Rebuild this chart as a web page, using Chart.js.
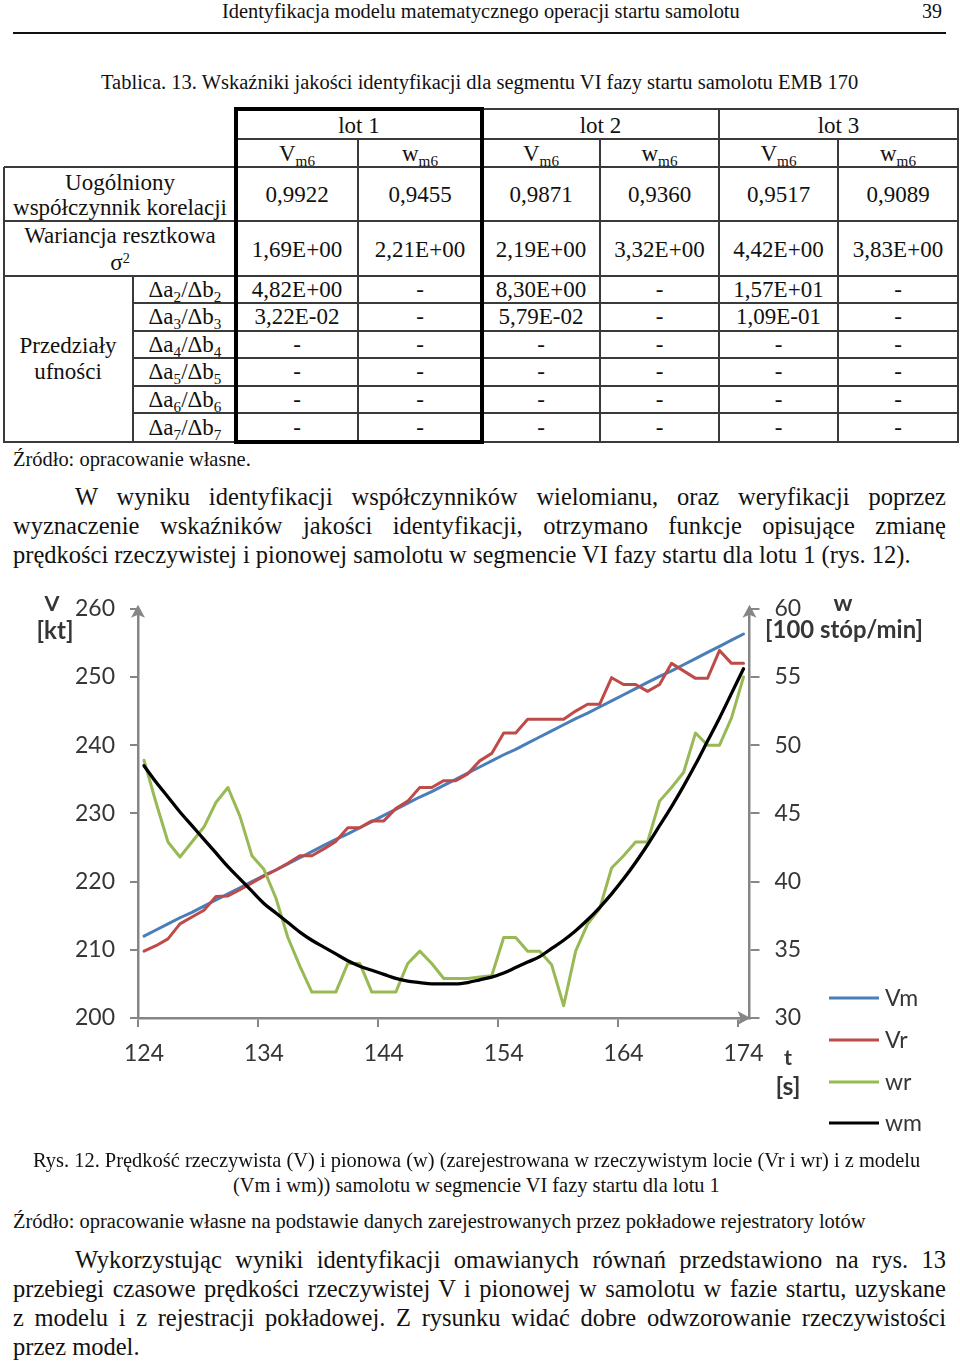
<!DOCTYPE html>
<html><head><meta charset="utf-8">
<script src="https://cdn.jsdelivr.net/npm/chart.js@4.4.1/dist/chart.umd.min.js"></script>
<style>
html,body{margin:0;padding:0;background:#fff;}
body{width:960px;height:1365px;position:relative;overflow:hidden;font-family:"Liberation Serif","Times New Roman",serif;color:#111;}
.t{position:absolute;white-space:nowrap;line-height:1;}
.t .sb{font-size:0.66em;position:relative;top:0.3em;}
.t .sp{font-size:0.62em;position:relative;top:-0.55em;}
.ln{position:absolute;background:#3a3a3a;}
#chartBox{position:absolute;left:0;top:580px;width:960px;height:570px;}
</style></head>
<body>
<div id="chartBox"><canvas id="c" width="960" height="570"></canvas></div>
<script>
// ---------------- chart data ----------------
const seconds = [124,125,126,127,128,129,130,131,132,133,134,135,136,137,138,139,140,141,142,143,144,145,146,147,148,149,150,151,152,153,154,155,156,157,158,159,160,161,162,163,164,165,166,167,168,169,170,171,172,173,174];
const vm = [212.0,212.9,213.8,214.7,215.5,216.4,217.3,218.2,219.1,220.0,220.9,221.7,222.6,223.5,224.4,225.3,226.2,227.0,227.9,228.8,229.7,230.6,231.5,232.4,233.2,234.1,235.0,235.9,236.8,237.7,238.6,239.4,240.3,241.2,242.1,243.0,243.9,244.7,245.6,246.5,247.4,248.3,249.2,250.1,250.9,251.8,252.7,253.6,254.5,255.4,256.3];
const vr = [209.8,210.6,211.6,213.8,214.8,215.8,217.8,217.9,218.8,219.8,220.8,221.7,222.7,223.8,223.8,224.8,225.9,227.9,227.9,228.9,228.9,230.7,231.8,233.8,233.8,234.8,234.8,235.8,237.7,238.8,241.8,241.8,243.8,243.8,243.8,243.8,245.0,246.0,246.0,249.9,248.9,248.9,247.9,248.9,252.0,250.9,249.8,249.8,253.9,252.0,252.0];
const wr = [48.9,45.8,42.9,41.8,42.9,44.0,45.8,46.9,44.8,41.9,40.9,38.8,35.9,33.8,31.9,31.9,31.9,34.0,34.0,31.9,31.9,31.9,34.0,34.9,34.0,32.9,32.9,32.9,33.0,33.1,35.9,35.9,34.9,34.9,33.9,30.9,34.9,36.9,38.0,41.0,41.9,42.9,42.9,45.9,46.9,48.0,50.9,50.0,50.0,52.0,55.0];
const wm = [48.5,47.3,46.2,45.1,44.1,43.1,42.1,41.1,40.2,39.3,38.4,37.7,37.0,36.3,35.7,35.2,34.7,34.2,33.8,33.5,33.2,32.9,32.7,32.6,32.5,32.5,32.5,32.6,32.8,33.0,33.3,33.7,34.1,34.5,35.1,35.7,36.4,37.2,38.1,39.1,40.2,41.4,42.7,44.1,45.5,47.0,48.6,50.3,52.0,53.8,55.6];
const seriesNames = ['Vm','Vr','wr','wm'];
const xTickLabels = ['124','134','144','154','164','174'];
const vAxisRange = [200,260];
const wAxisRange = [30,60];

// ---------------- table data ----------------
const lotNames = ['lot 1','lot 2','lot 3'];
const colHeads = ['V','w','V','w','V','w'];
const corrValues = ['0,9922','0,9455','0,9871','0,9360','0,9517','0,9089'];
const varValues = ['1,69E+00','2,21E+00','2,19E+00','3,32E+00','4,42E+00','3,83E+00'];
const intervalValues = [
  ['4,82E+00','-','8,30E+00','-','1,57E+01','-'],
  ['3,22E-02','-','5,79E-02','-','1,09E-01','-'],
  ['-','-','-','-','-','-'],
  ['-','-','-','-','-','-'],
  ['-','-','-','-','-','-'],
  ['-','-','-','-','-','-']
];
const intervalIdx = ['2','3','4','5','6','7'];

// ---------------- text helpers ----------------
function T(html, o){
  const d=document.createElement('div'); d.className='t';
  d.innerHTML=html; d.style.fontSize=o.fs+'px';
  if(o.b) d.style.fontWeight='bold';
  document.body.appendChild(d);
  let fs=o.fs;
  if(o.w){ const w0=d.getBoundingClientRect().width; fs=o.fs*o.w/w0; d.style.fontSize=fs+'px'; }
  const w=d.getBoundingClientRect().width;
  const left=(o.x!==undefined)?o.x:(o.cx-w/2);
  d.style.left=left+'px'; d.style.top=(o.cy-fs*0.507)+'px';
  return d;
}
function J(txt,x,right,cy,fs){
  const d=T(txt,{x:x,cy:cy,fs:fs});
  const w0=d.getBoundingClientRect().width;
  const n=(txt.match(/ /g)||[]).length;
  if(n>0) d.style.wordSpacing=((right-x-w0)/n)+'px';
}
function L(x,y,w,h,c){
  const d=document.createElement('div'); d.className='ln';
  d.style.left=x+'px'; d.style.top=y+'px'; d.style.width=w+'px'; d.style.height=h+'px';
  if(c) d.style.background=c;
  document.body.appendChild(d);
}

// header
T('Identyfikacja modelu matematycznego operacji startu samolotu',{x:222,cy:11,fs:20,w:518});
T('39',{x:922,cy:11,fs:20,w:20});
L(13,32,933,2,'#111');
T('Tablica. 13. Wskaźniki jakości identyfikacji dla segmentu VI fazy startu samolotu EMB 170',{x:101,cy:82,fs:20,w:758});

// table lines
const th=1.4;
[[482,109,958],[236,139,958],[4,167,958],[4,221,958],[4,276,958],[133,303,958],[133,331,958],[133,358,958],[133,386,958],[133,413,958],[4,442,958]]
  .forEach(a=>L(a[0],a[1]-th/2,a[2]-a[0]+th/2,th));
[[4,167,442],[133,276,442],[358,139,442],[600,139,442],[719,109,442],[838,139,442],[958,109,442]]
  .forEach(a=>L(a[0]-th/2,a[1],th,a[2]-a[1]+th/2));
// thick frame around lot 1
L(234,107,250,4,'#000'); L(234,440,250,4,'#000'); L(234,107,4,337,'#000'); L(480,107,4,337,'#000');

const colCx=[297,420,541,659.5,778.5,898];
const lotCx=[359,600.5,838.5];
const TF=23;
lotNames.forEach((n,i)=>T(n,{cx:lotCx[i],cy:126,fs:TF}));
colHeads.forEach((n,i)=>T(n+'<span class="sb">m6</span>',{cx:colCx[i],cy:154,fs:TF}));
corrValues.forEach((n,i)=>T(n,{cx:colCx[i],cy:195,fs:TF}));
varValues.forEach((n,i)=>T(n,{cx:colCx[i],cy:249.5,fs:TF}));
const rowCy=[290,317,345,372,400,428];
intervalValues.forEach((row,r)=>row.forEach((n,i)=>T(n,{cx:colCx[i],cy:rowCy[r],fs:TF})));
intervalIdx.forEach((k,r)=>T('Δa<span class="sb">'+k+'</span>/Δb<span class="sb">'+k+'</span>',{cx:185,cy:rowCy[r],fs:TF}));
T('Uogólniony',{cx:120,cy:182.5,fs:TF});
T('współczynnik korelacji',{cx:120,cy:208,fs:TF});
T('Wariancja resztkowa',{cx:120,cy:236,fs:TF});
T('σ<span class="sp">2</span>',{cx:120,cy:263,fs:TF});
T('Przedziały',{cx:68,cy:346,fs:TF});
T('ufności',{cx:68,cy:372,fs:TF});
T('Źródło: opracowanie własne.',{x:13,cy:459,fs:20,w:238});

// paragraph 1
const PF=24.5;
J('W wyniku identyfikacji współczynników wielomianu, oraz weryfikacji poprzez',75,946,497,PF);
J('wyznaczenie wskaźników jakości identyfikacji, otrzymano funkcje opisujące zmianę',13,946,526,PF);
T('prędkości rzeczywistej i pionowej samolotu w segmencie VI fazy startu dla lotu 1 (rys. 12).',{x:13,cy:555,fs:PF});

// captions
T('Rys. 12. Prędkość rzeczywista (V) i pionowa (w) (zarejestrowana w rzeczywistym locie (Vr i wr) i z modelu',{x:33,cy:1160,fs:20,w:888});
T('(Vm i wm)) samolotu w segmencie VI fazy startu dla lotu 1',{x:233,cy:1185,fs:20,w:487});
T('Źródło: opracowanie własne na podstawie danych zarejestrowanych przez pokładowe rejestratory lotów',{x:13,cy:1221,fs:20,w:853});

// paragraph 2
J('Wykorzystując wyniki identyfikacji omawianych równań przedstawiono na rys. 13',75,946,1260,PF);
J('przebiegi czasowe prędkości rzeczywistej V i pionowej w samolotu w fazie startu, uzyskane',13,946,1289,PF);
J('z modelu i z rejestracji pokładowej. Z rysunku widać dobre odwzorowanie rzeczywistości',13,946,1318,PF);
T('przez model.',{x:13,cy:1347,fs:PF});

// ---------------- chart ----------------
const AX='#868686', TXT='#363636', FONT='Lato';
const colors=['#4A7EBB','#BE4B48','#98B954','#000000'];
function pts(arr){return seconds.map((t,i)=>({x:t,y:arr[i]}));}

const decor={
  id:'decor',
  afterDraw(chart){
    const c=chart.ctx, a=chart.chartArea;
    c.save();
    c.fillStyle=AX;
    function up(x,y){c.beginPath();c.moveTo(x,y-4);c.lineTo(x-7,y+9);c.lineTo(x,y+6);c.lineTo(x+7,y+9);c.closePath();c.fill();}
    up(a.left,a.top); up(a.right,a.top);
    const x=a.right, y=a.bottom;
    c.beginPath();c.moveTo(x+1,y);c.lineTo(x-12,y-7);c.lineTo(x-9,y);c.lineTo(x-12,y+7);c.closePath();c.fill();
    // axis titles
    c.fillStyle=TXT; c.textBaseline='middle'; c.textAlign='center';
    function fit(txt,cx,cy,w,bold){
      c.font=(bold?'bold ':'')+'20px '+FONT;
      const s=20*w/c.measureText(txt).width;
      c.font=(bold?'bold ':'')+s+'px '+FONT;
      c.fillText(txt,cx,cy);
    }
    fit('V',52,24,15,true);
    fit('[kt]',55,51,37,true);
    fit('w',843,23,19,true);
    fit('[100 stóp/min]',844,50,158,true);
    fit('t',788,478,8,true);
    fit('[s]',788,507,25,true);
    // legend
    const ly=[418,460,502,543];
    c.textAlign='left'; c.font='23px '+FONT;
    seriesNames.forEach((n,i)=>{
      c.strokeStyle=colors[i]; c.lineWidth=3;
      c.beginPath(); c.moveTo(829,ly[i]); c.lineTo(879,ly[i]); c.stroke();
      c.fillStyle=TXT; c.fillText(n,885,ly[i]+1);
    });
    c.restore();
  }
};

new Chart(document.getElementById('c').getContext('2d'),{
  type:'line',
  data:{datasets:[
    {label:seriesNames[0],data:pts(vm),yAxisID:'yV',borderColor:colors[0],borderWidth:3,order:4},
    {label:seriesNames[1],data:pts(vr),yAxisID:'yV',borderColor:colors[1],borderWidth:3,order:3},
    {label:seriesNames[2],data:pts(wr),yAxisID:'yW',borderColor:colors[2],borderWidth:3,order:2},
    {label:seriesNames[3],data:pts(wm),yAxisID:'yW',borderColor:colors[3],borderWidth:3.3,order:1,cubicInterpolationMode:'monotone'}
  ]},
  options:{
    responsive:false, animation:false, devicePixelRatio:1,
    layout:{padding:{top:25,left:0,right:0,bottom:0}},
    plugins:{legend:{display:false},tooltip:{enabled:false}},
    elements:{point:{radius:0},line:{tension:0,borderJoinStyle:'round',borderCapStyle:'round'}},
    scales:{
      x:{type:'linear',min:seconds[0]-0.5,max:seconds[seconds.length-1]+0.5,
        afterBuildTicks(s){s.ticks=xTickLabels.map(l=>({value:Number(l)-0.5}));},
        afterFit(s){s.height=132;},
        ticks:{callback:(v,i)=>xTickLabels[i],labelOffset:6,padding:13,color:TXT,font:{family:FONT,size:23},autoSkip:false,maxRotation:0},
        grid:{drawOnChartArea:false,drawTicks:true,tickLength:9,color:AX,lineWidth:2},
        border:{display:true,color:AX,width:2.5}},
      yV:{position:'left',min:vAxisRange[0],max:vAxisRange[1],
        afterFit(s){s.width=138;},
        ticks:{stepSize:10,padding:15,color:TXT,font:{family:FONT,size:23}},
        grid:{drawOnChartArea:false,drawTicks:true,tickLength:8,color:AX,lineWidth:2},
        border:{display:true,color:AX,width:2.5}},
      yW:{position:'right',min:wAxisRange[0],max:wAxisRange[1],
        afterFit(s){s.width=960-749.5;},
        ticks:{stepSize:5,padding:15,color:TXT,font:{family:FONT,size:23}},
        grid:{drawOnChartArea:false,drawTicks:true,tickLength:10,color:AX,lineWidth:2},
        border:{display:true,color:AX,width:2.5}}
    }
  },
  plugins:[decor]
});
</script>
</body></html>
